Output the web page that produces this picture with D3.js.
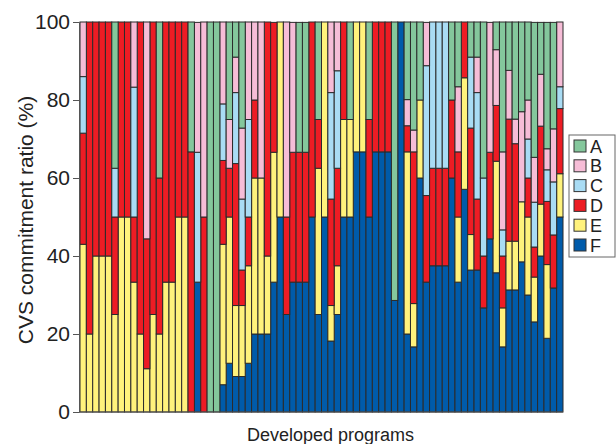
<!DOCTYPE html>
<html>
<head>
<meta charset="utf-8">
<script src="https://cdn.jsdelivr.net/npm/d3@7"></script>
<style>
  body { margin: 0; background: #fff; }
  text { font-family: "Liberation Sans", Arial, sans-serif; fill: #222; }
</style>
</head>
<body>
<div id="chart"></div>
<script>
// Series values per program (percent), stacked bottom F -> top A
const F = [0,0,0,0,0,0,0,0,0,0,0,0,0,0,0,0,0,0,33.3,0,0,0,7,12.5,9.1,9.1,12.5,20,20,20,33.3,50,25,33.3,33.3,33.3,50,25,50,18.2,25,50,50,66.7,66.7,50,66.7,66.7,66.7,28.6,100,20,16.7,60,33.3,37.5,37.5,37.5,60,33.3,57.1,36.4,36.4,26.7,44.4,35.7,16.7,31.3,31.3,38.5,30,23.1,40,18.9,31.8,50];
const E = [43,20,40,40,40,25,50,50,33.3,20,11.1,25,20,33.3,33.3,50,50,0,0,0,0,0,36,37.5,18.2,18.2,25,40,40,20,33.3,50,0,0,0,0,0,37.5,50,9.1,12.5,25,25,33.3,33.3,0,0,0,0,0,0,46.7,11.1,20,0,0,0,0,0,16.7,28.6,9.1,0,0,0,28.6,10,12.5,12.5,15.4,20,11.5,13.3,18.9,0,11.1];
const D = [28.5,80,60,60,60,25,50,50,16.7,80,33.3,75,40,66.7,66.7,50,50,66.7,0,50,0,0,21.5,12.5,36.4,9.1,12.5,20,0,60,33.3,0,25,33.3,33.3,33.3,50,12.5,0,27.3,25,25,0,0,0,25,33.3,33.3,33.3,0,0,6.7,38.9,0,22.2,25,25,25,20,16.7,14.3,27.3,18.2,13.3,22.2,14.3,13.3,31.3,25,0,10,7.7,20,16.2,13.6,16.7];
const C = [14.5,0,0,0,0,12.5,0,0,33.3,0,0,0,0,0,0,0,0,0,33.3,0,0,0,14.5,0,18.2,18.2,25,0,0,0,0,0,0,0,0,0,0,0,0,27.3,25,0,0,0,0,0,0,0,0,0,0,0,0,0,33.3,37.5,37.5,37.5,0,0,0,18.2,27.3,20,0,0,6.7,0,0,0,10,11.5,0,8.1,13.6,5.6];
const B = [14,0,0,0,0,0,0,0,16.7,0,55.6,0,0,0,0,0,0,0,33.3,50,0,0,21,12.5,9.1,18.2,25,20,40,0,0,0,50,33.3,0,0,0,0,0,18.2,12.5,0,0,0,0,0,0,0,0,0,0,6.7,5.6,0,11.1,0,0,0,0,16.7,0,0,9.1,0,33.3,14.3,20,12.5,6.3,23.1,10,11.5,13.3,5.4,13.6,16.7];
const A = [0,0,0,0,0,37.5,0,0,0,0,0,0,40,0,0,0,0,33.3,0,0,100,100,0,25,9.1,27.3,0,0,0,0,0,0,0,0,33.3,33.3,0,25,0,0,0,0,25,0,0,25,0,0,0,71.4,0,20,27.8,20,0,0,0,0,20,16.7,0,9.1,9.1,40,0,7.1,33.3,12.5,25,23.1,20,34.6,13.3,32.4,27.3,0];

const keys = ["F", "E", "D", "C", "B", "A"];
const legendKeys = ["A", "B", "C", "D", "E", "F"];
const colors = {A: "#84C79C", B: "#F6BDD7", C: "#A9DCF4", D: "#ED1C24", E: "#FFF27C", F: "#005BAA"};
const yTicks = [0, 20, 40, 60, 80, 100];

const series = {F, E, D, C, B, A};
const programs = d3.range(F.length);
const table = programs.map(i => {
    const row = {id: i};
    keys.forEach(k => row[k] = series[k][i]);
    return row;
});

const width = 616, height = 444;
const margin = {left: 79, right: 53, top: 22, bottom: 32};

const svg = d3.select("#chart").append("svg")
    .attr("width", width)
    .attr("height", height);

const x = d3.scaleBand()
    .domain(programs)
    .range([margin.left + 1, width - margin.right])
    .padding(0);

const y = d3.scaleLinear()
    .domain([0, 100])
    .range([height - margin.bottom, margin.top]);

const stacked = d3.stack().keys(keys)(table);

// bars
svg.append("g")
    .selectAll("g")
    .data(stacked)
    .join("g")
    .attr("fill", d => colors[d.key])
    .selectAll("rect")
    .data(d => d.filter(s => s[1] - s[0] > 0))
    .join("rect")
    .attr("x", d => x(d.data.id))
    .attr("width", x.bandwidth())
    .attr("y", d => y(Math.min(100, d[1])))
    .attr("height", d => y(d[0]) - y(Math.min(100, d[1])))
    .attr("stroke", "#2b2b2b")
    .attr("stroke-width", 1);

// y axis
const yAxis = svg.append("g")
    .attr("transform", `translate(${margin.left},0)`)
    .call(d3.axisLeft(y).tickValues(yTicks).tickSize(6).tickPadding(3));
yAxis.select(".domain").attr("stroke", "#555");
yAxis.selectAll(".tick line").attr("stroke", "#555");
yAxis.selectAll("text")
    .style("font-size", "21px")
    .attr("fill", "#222");

// bottom line
svg.append("line")
    .attr("x1", margin.left).attr("x2", width - margin.right)
    .attr("y1", y(0)).attr("y2", y(0))
    .attr("stroke", "#555");

// axis titles
svg.append("text")
    .attr("transform", "translate(33,220) rotate(-90)")
    .attr("text-anchor", "middle")
    .style("font-size", "21px")
    .text("CVS commitment ratio (%)");

svg.append("text")
    .attr("x", (x.range()[0] + x.range()[1]) / 2 + 9)
    .attr("y", 441)
    .attr("text-anchor", "middle")
    .style("font-size", "18px")
    .text("Developed programs");

// legend
const legend = svg.append("g").attr("transform", "translate(569,135)");
legend.append("rect")
    .attr("width", 46).attr("height", 122)
    .attr("fill", "#fff")
    .attr("stroke", "#666");
const item = legend.selectAll("g")
    .data(legendKeys)
    .join("g")
    .attr("transform", (d, i) => `translate(0,${11 + i * 19.8})`);
item.append("rect")
    .attr("x", 5).attr("y", -6)
    .attr("width", 12).attr("height", 12)
    .attr("fill", d => colors[d])
    .attr("stroke", "#333");
item.append("text")
    .attr("x", 21).attr("y", 6.5)
    .style("font-size", "18px")
    .text(d => d);
</script>
</body>
</html>
